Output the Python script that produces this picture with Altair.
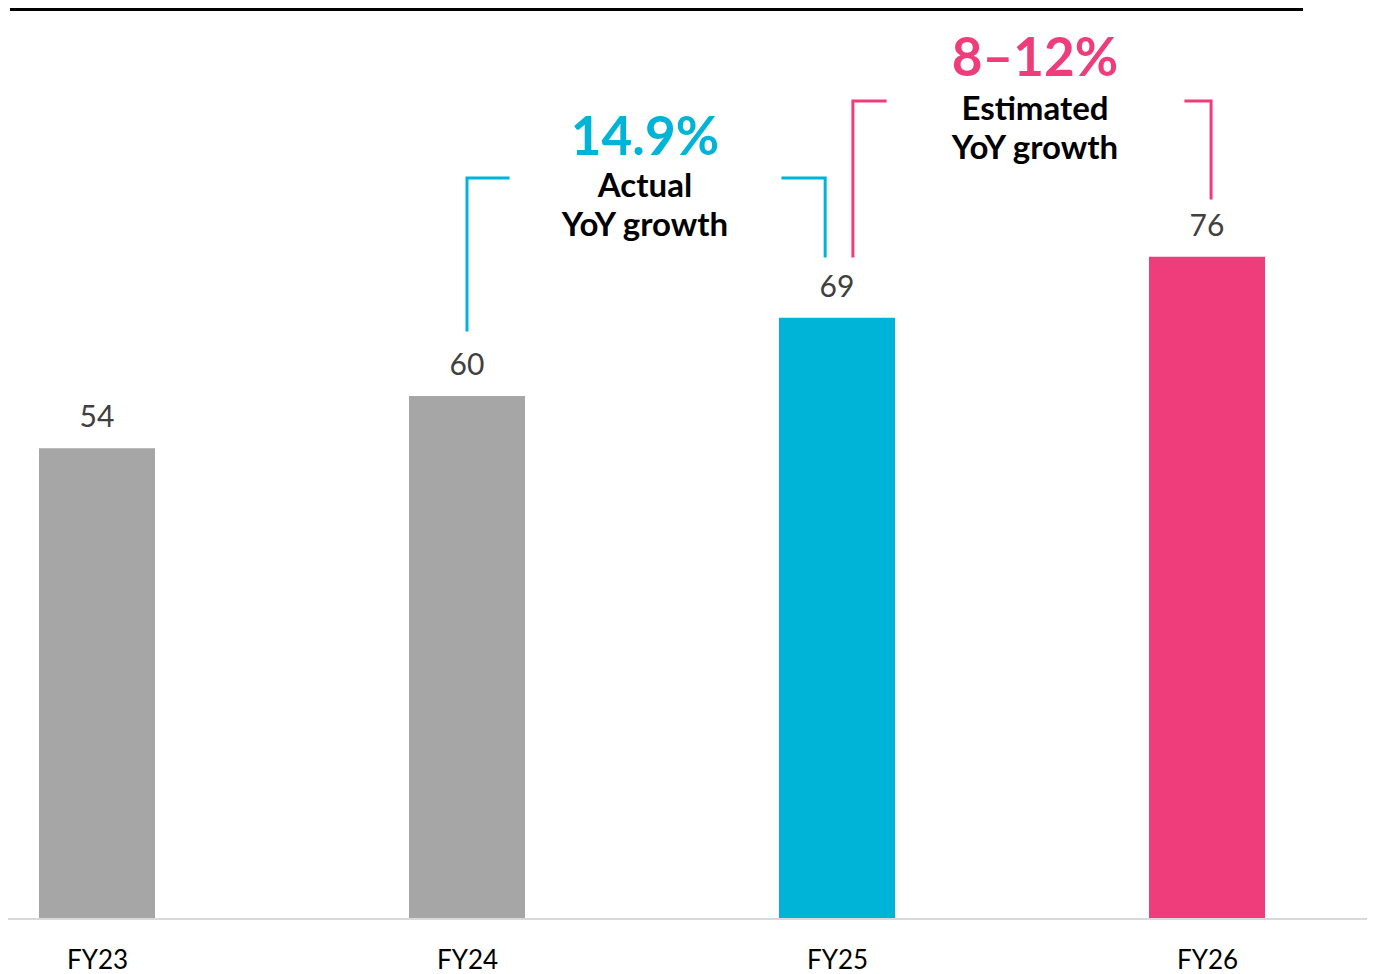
import altair as alt
import pandas as pd

categories = ["FY23", "FY24", "FY25", "FY26"]
values = [54, 60, 69, 76]
bar_groups = ["past", "past", "actual", "estimate"]

growth_texts = ["14.9%", "8–12%"]
growth_captions = [["Actual", "YoY growth"], ["Estimated", "YoY growth"]]

BLUE = "#00B4D8"
PINK = "#EE3D7A"
GRAY = "#A6A6A6"
FONT = "Lato"

W, H = 1359, 910
X_DOM = [-89 / 370, (W - 89) / 370]
Y_DOM = [0, H / 8.7]

bars = pd.DataFrame({"idx": range(4), "cat": categories, "value": values, "grp": bar_groups})

xs = alt.Scale(domain=X_DOM, nice=False, zero=False, padding=0)
ys = alt.Scale(domain=Y_DOM, nice=False, zero=False, padding=0)

color = alt.Color("grp:N", scale=alt.Scale(domain=["past", "actual", "estimate"], range=[GRAY, BLUE, PINK]), legend=None)

bar = alt.Chart(bars).mark_bar(size=116).encode(
    x=alt.X("idx:Q", scale=xs, axis=alt.Axis(values=[0, 1, 2, 3], labelExpr="['FY23','FY24','FY25','FY26'][datum.value]",
                                             title=None, grid=False, ticks=False, domain=False,
                                             labelFontSize=26, labelFont=FONT, labelColor="#000000",
                                             labelBaseline="middle", labelPadding=42)),
    y=alt.Y("value:Q", scale=ys, axis=None),
    color=color,
)

labels = alt.Chart(bars).mark_text(font=FONT, fontSize=30, color="#404040", baseline="alphabetic", dy=-21).encode(
    x=alt.X("idx:Q", scale=xs), y=alt.Y("value:Q", scale=ys), text="value:Q"
)

# bracket geometry derived from the bars
def bracket(i0, i1, level, dx0, dx1, gap0, gap1, drop0, drop1, name):
    pts = [
        (name + "L", 0, i0 + dx0, values[i0] + drop0),
        (name + "L", 1, i0 + dx0, level),
        (name + "L", 2, i0 + dx0 + gap0, level),
        (name + "R", 0, i1 + dx1 - gap1, level),
        (name + "R", 1, i1 + dx1, level),
        (name + "R", 2, i1 + dx1, values[i1] + drop1),
    ]
    return pts

rows = bracket(1, 2, 85.06, 0.0, -0.032, 0.111, 0.114, 7.6, 7.1, "a") + \
       bracket(2, 3, 93.9, 0.043, 0.011, 0.087, 0.068, 7.1, 6.76, "e")
br = pd.DataFrame(rows, columns=["seg", "order", "x", "y"])
br["kind"] = br["seg"].str[0]

brackets = alt.Chart(br).mark_line(strokeWidth=3, strokeJoin="miter", strokeCap="square").encode(
    x=alt.X("x:Q", scale=xs), y=alt.Y("y:Q", scale=ys), detail="seg:N", order="order:Q",
    color=alt.Color("kind:N", scale=alt.Scale(domain=["a", "e"], range=[BLUE, PINK]), legend=None),
)

ann = pd.DataFrame({
    "x": [1.481, 2.535],
    "y": [89.55, 98.6],
    "text": growth_texts,
    "kind": ["a", "e"],
})
big = alt.Chart(ann).mark_text(font=FONT, fontSize=53, fontWeight="bold", baseline="middle").encode(
    x=alt.X("x:Q", scale=xs), y=alt.Y("y:Q", scale=ys), text="text:N",
    color=alt.Color("kind:N", scale=alt.Scale(domain=["a", "e"], range=[BLUE, PINK]), legend=None),
)
cap = pd.DataFrame({
    "x": [1.481, 1.481, 2.535, 2.535],
    "y": [84.0, 79.5, 92.9, 88.4],
    "text": growth_captions[0] + growth_captions[1],
})
caps = alt.Chart(cap).mark_text(font=FONT, fontSize=33, fontWeight="bold", color="#000000", baseline="middle").encode(
    x=alt.X("x:Q", scale=xs), y=alt.Y("y:Q", scale=ys), text="text:N"
)

top_rule = alt.Chart(bars).mark_rule(color="#000000", strokeWidth=4).encode(
    x=alt.value(2), x2=alt.value(1295), y=alt.value(1)
)
base_rule = alt.Chart(bars).mark_rule(color="#D9D9D9", strokeWidth=2).encode(
    x=alt.value(0), x2=alt.value(W), y=alt.value(H + 1)
)

chart = alt.layer(base_rule, bar, labels, brackets, big, caps, top_rule).resolve_scale(color="independent").properties(
    width=W, height=H, padding={"left": 0, "right": 0, "top": 0, "bottom": 56}, autosize="none"
).configure_view(stroke=None)

chart.save("out.html", embed_options={"renderer": "svg", "actions": False})
